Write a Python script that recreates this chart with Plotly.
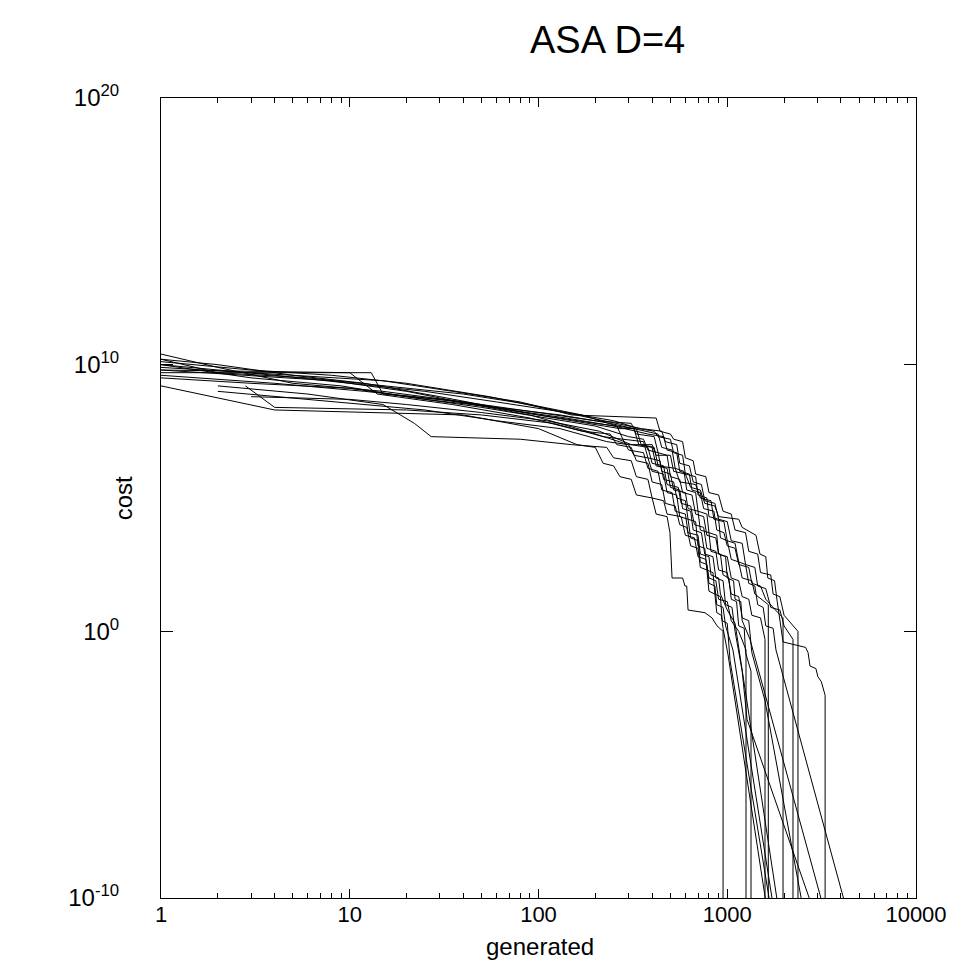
import plotly.graph_objects as go

# ASA D=4: best cost vs. number of generated points, one line per run.
# Each run is a list of (generated, cost) points.
run_01 = [(1, 6.3e9), (3, 4.0e9), (8, 2.5e9), (20, 1.0e9), (45, 3.2e8), (90, 1.3e8), (180, 3.2e7),
          (300, 1.0e7), (400, 1.0e7), (420, 4.0e6), (500, 4.0e6), (520, 1.0e6), (600, 7.9e5), (640, 2.5e5),
          (720, 2.0e5), (760, 6.3e4), (860, 5.0e4), (900, 2.0e4), (1150, 1.6e4), (1200, 7.9e3), (1420, 4.0e3),
          (1490, 7.9e2), (1600, 6.3e2), (1640, 1.0e2), (1780, 7.9e1), (1840, 1.3e1), (1900, 2.5), (1975, 4.0e-1),
          (2600, 2.5e-1), (2680, 1.6e-1), (2745, 5.0e-2), (2950, 4.0e-2), (3020, 2.0e-2), (3150, 1.3e-2),
          (3300, 4.0e-3), (3300, 1e-20)]

run_02 = [(1, 1.6e10), (2, 1.0e10), (5, 4.0e9), (12, 2.0e9), (30, 6.3e8), (70, 2.0e8), (150, 7.9e7),
          (270, 4.0e7), (330, 4.0e7), (350, 1.0e7), (410, 7.9e6), (430, 1.6e6), (530, 1.3e6), (560, 4.0e5),
          (680, 3.2e5), (720, 1.0e5), (820, 7.9e4), (850, 1.6e4), (960, 1.3e4), (1000, 2.5e3), (1100, 2.0e3),
          (1150, 4.0e2), (1250, 3.2e2), (1300, 6.3e1), (1400, 5.0e1), (1450, 1.0e1), (1550, 7.9), (1600, 1.6),
          (1750, 1.3), (1812, 2.0e-1), (10000, 1e-20)]

run_03 = [(1, 1.6e9), (4, 2.0e8), (40, 1.3e8), (100, 4.0e7), (160, 1.0e7), (200, 7.9e6), (220, 2.0e6),
          (250, 1.6e6), (270, 6.3e5), (310, 5.0e5), (330, 1.3e5), (400, 1.0e5), (420, 2.5e4), (480, 2.0e4),
          (497, 5.0e3), (500, 2.0e3), (510, 1.0e2), (580, 1.0e2), (597, 5.0e1), (610, 5.0e1), (620, 6.3),
          (762, 5.0), (830, 3.2), (883, 1.6), (950, 1.0), (950, 1e-20)]

run_04 = [(2, 1.6e9), (6, 7.9e8), (15, 3.2e8), (22, 6.3e7), (27, 2.0e7), (80, 1.6e7), (150, 1.0e7),
          (230, 7.9e6), (250, 3.2e6), (310, 2.5e6), (330, 6.3e5), (380, 5.0e5), (400, 1.0e5), (460, 7.9e4),
          (480, 2.5e4), (570, 2.0e4), (600, 4.0e3), (670, 3.2e3), (700, 6.3e2), (770, 5.0e2), (800, 1.0e2),
          (870, 7.9e1), (900, 1.6e1), (1000, 1.3e1), (1050, 2.5), (1150, 1.0), (1257, 2.0e-1), (1257, 1e-20)]

run_05 = [(1, 1.0e10), (3, 3.2e9), (9, 1.6e9), (20, 6.3e8), (50, 2.5e8), (110, 1.0e8), (200, 5.0e7),
          (300, 2.0e7), (360, 1.6e7), (380, 6.3e6), (430, 5.0e6), (450, 1.0e6), (500, 7.9e5), (520, 2.0e5),
          (600, 1.6e5), (620, 4.0e4), (700, 3.2e4), (720, 6.3e3), (800, 5.0e3), (820, 1.0e3), (920, 7.9e2),
          (950, 1.3e2), (1020, 1.0e2), (1050, 1.6e1), (1120, 1.3e1), (1150, 1.6), (1230, 1.3), (1250, 1.6e-1),
          (1336, 3.2e-2), (1336, 1e-20)]

run_06 = [(1, 5.0e9), (13, 5.0e9), (15, 7.9e8), (40, 4.0e8), (100, 1.6e8), (200, 7.9e7), (310, 6.3e7),
          (330, 2.5e7), (410, 2.0e7), (430, 5.0e6), (480, 4.0e6), (500, 6.3e5), (560, 5.0e5), (580, 1.6e5),
          (650, 1.3e5), (680, 2.5e4), (750, 2.0e4), (780, 4.0e3), (870, 3.2e3), (900, 7.9e2), (1000, 6.3e2),
          (1050, 1.0e2), (1150, 7.9e1), (1200, 2.0e1), (1300, 1.6e1), (1350, 4.0), (1500, 3.2), (1585, 5.0e-1),
          (1585, 1e-20)]

run_07 = [(1, 6.3e9), (10, 5.0e9), (14, 7.9e8), (35, 3.2e8), (90, 1.0e8), (170, 3.2e7), (240, 2.5e7),
          (260, 1.0e7), (310, 7.9e6), (330, 2.5e6), (380, 2.0e6), (400, 4.0e5), (450, 3.2e5), (470, 6.3e4),
          (530, 5.0e4), (560, 1.0e4), (610, 7.9e3), (640, 1.6e3), (700, 1.3e3), (720, 2.5e2), (780, 2.0e2),
          (800, 3.2e1), (860, 2.5e1), (880, 5.0), (930, 4.0), (950, 1.3), (1010, 1.3e-1), (2613, 1e-20)]

run_08 = [(1, 2.5e10), (2, 7.9e9), (5, 2.0e9), (15, 1.0e9), (40, 4.0e8), (100, 1.3e8), (200, 6.3e7),
          (260, 5.0e7), (280, 1.6e7), (360, 1.3e7), (380, 3.2e6), (440, 2.5e6), (460, 5.0e5), (520, 4.0e5),
          (540, 1.0e5), (600, 7.9e4), (620, 1.6e4), (680, 1.3e4), (700, 1.6e3), (760, 1.3e3), (780, 2.0e2),
          (840, 1.6e2), (860, 2.5e1), (920, 2.0e1), (940, 2.5), (1000, 2.0), (1035, 7.9e-2), (2845, 1e-20)]

run_09 = [(2, 1.0e9), (8, 4.0e8), (25, 2.0e8), (60, 7.9e7), (130, 4.0e7), (230, 1.3e7), (300, 1.0e7),
          (320, 4.0e6), (380, 3.2e6), (400, 1.0e6), (460, 7.9e5), (480, 1.6e5), (540, 1.3e5), (560, 2.0e4),
          (620, 1.6e4), (640, 3.2e3), (700, 2.5e3), (720, 4.0e2), (780, 3.2e2), (800, 6.3e1), (860, 5.0e1),
          (880, 1.0e1), (950, 7.9), (980, 1.6), (1072, 2.0e-1), (2880, 1e-20)]

run_10 = [(1, 4.0e9), (4, 2.0e9), (12, 1.0e9), (30, 5.0e8), (70, 2.0e8), (140, 1.0e8), (250, 5.0e7),
          (380, 2.5e7), (460, 2.0e7), (480, 6.3e6), (540, 5.0e6), (560, 1.0e6), (630, 7.9e5), (650, 2.0e5),
          (720, 1.6e5), (750, 4.0e4), (850, 3.2e4), (880, 6.3e3), (960, 5.0e3), (1000, 1.6e3), (1100, 1.3e3),
          (1150, 3.2e2), (1300, 2.5e2), (1350, 6.3e1), (1500, 5.0e1), (1600, 1.6e1), (1800, 6.3), (1975, 3.2),
          (1975, 1e-20)]

run_11 = [(1, 1.3e10), (3, 6.3e9), (8, 4.0e9), (20, 2.0e9), (55, 6.3e8), (120, 2.0e8), (220, 7.9e7),
          (350, 4.0e7), (450, 3.2e7), (470, 1.3e7), (540, 1.0e7), (560, 2.0e6), (630, 1.6e6), (660, 4.0e5),
          (730, 3.2e5), (760, 7.9e4), (860, 6.3e4), (900, 1.6e4), (1000, 1.3e4), (1050, 2.5e3), (1200, 2.0e3),
          (1250, 3.2e2), (1400, 2.5e2), (1450, 5.0e1), (1600, 4.0e1), (1700, 7.9), (1900, 6.3), (2000, 1.6),
          (2230, 5.0e-1), (2230, 1e-20)]

run_12 = [(1, 7.9e9), (5, 4.0e9), (15, 2.5e9), (35, 1.0e9), (80, 4.0e8), (150, 1.3e8), (420, 1.0e8),
          (440, 3.2e7), (500, 2.5e7), (520, 1.6e7), (580, 1.3e7), (600, 3.2e6), (660, 2.5e6), (680, 7.9e5),
          (770, 6.3e5), (800, 1.6e5), (900, 1.3e5), (950, 3.2e4), (1050, 2.5e4), (1100, 6.3e3), (1250, 5.0e3),
          (1300, 1.0e3), (1450, 7.9e2), (1500, 1.6e2), (1700, 1.3e2), (1750, 2.5e1), (1900, 2.0e1), (2000, 4.0),
          (2370, 1.0), (2370, 1e-20)]

run_13 = [(3, 6.3e8), (10, 5.0e8), (20, 3.2e8), (50, 1.6e8), (110, 7.9e7), (210, 3.2e7), (310, 1.0e7),
          (380, 7.9e6), (400, 2.0e6), (460, 1.6e6), (480, 3.2e5), (550, 2.5e5), (570, 6.3e4), (640, 5.0e4),
          (670, 1.0e4), (750, 7.9e3), (780, 1.3e3), (870, 1.0e3), (900, 2.0e2), (1000, 1.6e2), (1050, 2.5e1),
          (1150, 2.0e1), (1200, 3.2), (1300, 2.5), (1350, 1.6e-1), (1470, 1.6e-2), (1585, 2.5e-3), (4470, 1e-20)]

run_14 = [(1, 1.6e10), (2, 5.0e9), (6, 3.2e9), (16, 1.6e9), (40, 7.9e8), (90, 3.2e8), (170, 1.3e8),
          (260, 5.0e7), (320, 4.0e7), (340, 1.0e7), (400, 7.9e6), (420, 1.6e6), (480, 1.3e6), (500, 2.5e5),
          (560, 2.0e5), (580, 4.0e4), (640, 3.2e4), (660, 6.3e3), (730, 5.0e3), (760, 7.9e2), (840, 6.3e2),
          (870, 1.0e2), (950, 7.9e1), (980, 1.0e1), (1060, 7.9), (1100, 1.0), (1200, 3.2e-2), (1273, 5.0e-4),
          (8430, 1e-20)]

run_15 = [(1, 3.2e9), (3, 2.0e9), (10, 1.3e9), (25, 5.0e8), (60, 2.5e8), (130, 1.3e8), (240, 6.3e7),
          (360, 3.2e7), (430, 2.5e7), (450, 7.9e6), (510, 6.3e6), (530, 1.3e6), (590, 1.0e6), (610, 2.0e5),
          (680, 1.6e5), (700, 3.2e4), (780, 2.5e4), (800, 5.0e3), (880, 4.0e3), (900, 7.9e2), (980, 6.3e2),
          (1000, 1.0e2), (1080, 7.9e1), (1100, 1.6e1), (1180, 1.3e1), (1200, 2.5), (1320, 5.0e-1), (7640, 1e-20)]

run_16 = [(1, 1.0e10), (2, 6.3e9), (4, 4.0e9), (10, 2.0e9), (25, 1.0e9), (60, 4.0e8), (140, 1.6e8),
          (250, 7.9e7), (340, 4.0e7), (410, 3.2e7), (430, 2.0e7), (500, 1.6e7), (520, 5.0e6), (580, 4.0e6),
          (600, 7.9e5), (680, 6.3e5), (700, 1.3e5), (780, 1.0e5), (800, 2.0e4), (900, 1.6e4), (920, 3.2e3),
          (1000, 2.5e3), (1050, 5.0e2), (1150, 4.0e2), (1200, 1.0e2), (1350, 7.9e1), (1400, 2.5e1), (1650, 1.0e1),
          (1650, 1e-20)]

run_17 = [(2.8, 1.6e9), (4, 2.5e8), (20, 2.0e8), (50, 1.3e8), (120, 6.3e7), (220, 2.0e7), (280, 1.6e7),
          (300, 6.3e6), (360, 5.0e6), (380, 1.3e6), (430, 1.0e6), (450, 2.0e5), (510, 1.6e5), (530, 3.2e4),
          (600, 2.5e4), (620, 5.0e3), (700, 4.0e3), (720, 7.9e2), (800, 6.3e2), (820, 1.3e2), (900, 1.0e2),
          (920, 2.5e1), (1000, 6.3), (1100, 2.0), (3000, 1e-20)]

runs = [run_01, run_02, run_03, run_04, run_05, run_06, run_07, run_08, run_09,
        run_10, run_11, run_12, run_13, run_14, run_15, run_16, run_17]

x_tickvals = [1, 10, 100, 1000, 10000]
x_ticktext = ["1", "10", "100", "1000", "10000"]
x_minor_ticks = [m * 10 ** k for k in range(4) for m in range(2, 10)]
y_tickvals = [1e-10, 1e0, 1e10, 1e20]
y_ticktext = ["10<sup>-10</sup>", "10<sup>0</sup>", "10<sup>10</sup>", "10<sup>20</sup>"]

FONT = "Liberation Sans, Arial, sans-serif"

fig = go.Figure()
for run in runs:
    fig.add_trace(
        go.Scatter(
            x=[p[0] for p in run],
            y=[p[1] for p in run],
            mode="lines",
            line=dict(color="black", width=1),
            showlegend=False,
            hoverinfo="skip",
        )
    )

fig.update_xaxes(
    type="log",
    range=[0, 4],
    tickmode="array",
    tickvals=x_tickvals,
    ticktext=x_ticktext,
    ticks="inside",
    ticklen=9,
    tickwidth=1,
    tickcolor="black",
    minor=dict(tickmode="array", tickvals=x_minor_ticks, ticks="inside", ticklen=5,
               tickwidth=1, tickcolor="black", showgrid=False),
    showline=True,
    linecolor="black",
    linewidth=1,
    mirror="ticks",
    showgrid=False,
    zeroline=False,
    automargin=False,
    ticklabelstandoff=-3,
    tickfont=dict(family=FONT, size=22, color="black"),
)
fig.update_yaxes(
    type="log",
    range=[-10, 20],
    tickmode="array",
    tickvals=y_tickvals,
    ticktext=y_ticktext,
    ticks="inside",
    ticklen=12,
    tickwidth=1,
    tickcolor="black",
    showline=True,
    linecolor="black",
    linewidth=1,
    mirror="ticks",
    showgrid=False,
    zeroline=False,
    automargin=False,
    ticklabelstandoff=36,
    tickfont=dict(family=FONT, size=24, color="black"),
)

fig.update_layout(
    width=966,
    height=965,
    margin=dict(l=161, r=50, t=98, b=67),
    paper_bgcolor="white",
    plot_bgcolor="white",
    font=dict(family=FONT, color="black"),
    title=dict(
        text="ASA D=4",
        x=0.629,
        xanchor="center",
        y=0.9585,
        yanchor="middle",
        font=dict(family=FONT, size=38, color="black"),
    ),
    annotations=[
        dict(
            text="cost", xref="paper", yref="paper", x=-0.05, y=0.5,
            textangle=-90, showarrow=False, xanchor="center", yanchor="middle",
            font=dict(family=FONT, size=24, color="black"),
        ),
        dict(
            text="generated", xref="paper", yref="paper", x=0.502, y=-0.061,
            showarrow=False, xanchor="center", yanchor="middle",
            font=dict(family=FONT, size=24, color="black"),
        ),
    ],
)

# drop the page's default body margin so the figure sits at the window's top-left corner
fig.write_html(
    "out.html",
    config={"displayModeBar": False},
    post_script="document.body.style.margin = '0';",
)
